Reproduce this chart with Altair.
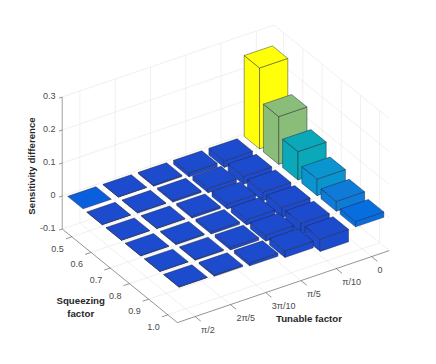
import math
import altair as alt
import pandas as pd

squeeze = [0.5, 0.6, 0.7, 0.8, 0.9, 1.0]
tunable = [0, 1, 2, 3, 4, 5]  # multiples of pi/10
tunable_labels = ["0", "π/10", "π/5", "3π/10", "2π/5", "π/2"]
ztick_vals = [-0.1, 0, 0.1, 0.2, 0.3]
ztick_labels = ["-0.1", "0", "0.1", "0.2", "0.3"]

# rows: squeezing factor, columns: tunable factor
values = [
    [0.245, -0.020, -0.012, -0.004, -0.001, 0.000],
    [0.145, -0.024, -0.013, -0.005, -0.002, -0.001],
    [0.086, -0.027, -0.015, -0.006, -0.002, -0.001],
    [0.050, -0.030, -0.016, -0.007, -0.003, -0.001],
    [0.030, -0.034, -0.018, -0.008, -0.003, -0.001],
    [0.016, -0.038, -0.020, -0.009, -0.004, -0.001],
]

color_domain = [-0.04, -0.0005, 0.0, 0.016, 0.03, 0.05, 0.086, 0.145, 0.245]
color_range = ["#1d4bce", "#1d4bce", "#0a5fdc", "#076ee0", "#0f7bd8", "#0b95d0", "#0aa8b8", "#8abd7a", "#ffff0a"]

# orthographic view: screen position of (squeeze 0.5, tunable 0, z 0), and screen step per unit
ORIGIN = (266.0, 137.8)
U = (19.2, 15.6)
V = (-35.3, 12.0)
ZS = 330.0
BAR = 0.4


def proj(i, j, z):
    return (ORIGIN[0] + i * U[0] + j * V[0], ORIGIN[1] + i * U[1] + j * V[1] - z * ZS)


polys, lines, labels = [], [], []


def add_poly(pts, val):
    pid = len(polys) and polys[-1]["poly"] + 1
    for k, p in enumerate(pts + [pts[0]]):
        polys.append({"poly": pid, "ord": k, "sx": p[0], "sy": p[1], "val": val})


def add_line(group, a, b):
    for k, p in enumerate((a, b)):
        lines.append({"id": len(lines) // 2, "group": group, "ord": k, "sx": p[0], "sy": p[1]})


ZLO, ZHI = ztick_vals[0], ztick_vals[-1]
LO, HI = -0.5, 5.5

# grid
for j in tunable:
    add_line("grid", proj(LO, j, ZLO), proj(HI, j, ZLO))
    add_line("grid", proj(LO, j, ZLO), proj(LO, j, ZHI))
for i in range(6):
    add_line("grid", proj(i, LO, ZLO), proj(i, HI, ZLO))
    add_line("grid", proj(i, LO, ZLO), proj(i, LO, ZHI))
for z in ztick_vals:
    add_line("grid", proj(LO, HI, z), proj(LO, LO, z))
    add_line("grid", proj(LO, LO, z), proj(HI, LO, z))

# axes
add_line("axis", proj(LO, HI, ZLO), proj(HI, HI, ZLO))
add_line("axis", proj(HI, HI, ZLO), proj(HI, LO, ZLO))
add_line("zaxis", proj(LO, HI, ZLO), proj(LO, HI, ZHI))
for i in range(6):
    add_line("axis", proj(i, HI, ZLO), proj(i, HI + 0.17, ZLO))
for j in tunable:
    add_line("axis", proj(HI, j, ZLO), proj(HI + 0.3, j, ZLO))
for z in ztick_vals:
    add_line("axis", proj(LO, HI, z), proj(LO, HI + 0.09, z))

# bars, back to front
for i in range(6):
    for j in tunable:
        v = values[i][j]
        top, bot = max(v, 0), min(v, 0)
        l, f, r, b = [(i - BAR, j + BAR), (i + BAR, j + BAR), (i + BAR, j - BAR), (i - BAR, j - BAR)]
        if top != bot:
            add_poly([proj(*l, top), proj(*f, top), proj(*f, bot), proj(*l, bot)], v)
            add_poly([proj(*f, top), proj(*r, top), proj(*r, bot), proj(*f, bot)], v)
        add_poly([proj(*l, top), proj(*f, top), proj(*r, top), proj(*b, top)], v)

# tick labels
for i, s in enumerate(squeeze):
    p = proj(i, HI, ZLO)
    labels.append({"t": f"{s:.1f}", "sx": p[0] - 8, "sy": p[1] + 12, "a": "right"})
for j, t in zip(tunable, tunable_labels):
    p = proj(HI, j, ZLO)
    labels.append({"t": t, "sx": p[0] + 6, "sy": p[1] + 13, "a": "left"})
for z, t in zip(ztick_vals, ztick_labels):
    p = proj(LO, HI, z)
    labels.append({"t": t, "sx": 55.5, "sy": p[1] - 1.5, "a": "right"})

titles = [
    {"t": "Squeezing", "sx": 80.7, "sy": 301, "ang": 0},
    {"t": "factor", "sx": 80.7, "sy": 314.3, "ang": 0},
    {"t": "Tunable factor", "sx": 309, "sy": 319, "ang": 0},
    {"t": "Sensitivity difference", "sx": 31.7, "sy": 166, "ang": 270},
]

xs = alt.Scale(domain=[8, 428], range=[0, 420], nice=False, zero=False)
ys = alt.Scale(domain=[8, 356], range=[0, 348], nice=False, zero=False)
X = alt.X("sx:Q", scale=xs, axis=None)
Y = alt.Y("sy:Q", scale=ys, axis=None)

ldf = pd.DataFrame(lines)


def line_layer(group, color, width):
    return (
        alt.Chart(ldf[ldf["group"] == group])
        .mark_line(stroke=color, strokeWidth=width)
        .encode(x=X, y=Y, order="ord:Q", detail="id:N")
    )


bars = (
    alt.Chart(pd.DataFrame(polys))
    .mark_line(stroke="#1c1f33", strokeWidth=0.45, strokeJoin="round")
    .encode(
        x=X,
        y=Y,
        order="ord:Q",
        detail="poly:N",
        fill=alt.Fill("val:Q", scale=alt.Scale(domain=color_domain, range=color_range), legend=None),
    )
)

ldat = pd.DataFrame(labels)
tick_text = []
for a in ("left", "right"):
    tick_text.append(
        alt.Chart(ldat[ldat["a"] == a])
        .mark_text(font="Liberation Sans", fontSize=9, color="#4a4a4a", align=a, baseline="middle")
        .encode(x=X, y=Y, text="t:N")
    )
tdat = pd.DataFrame(titles)
title_text = [
    alt.Chart(tdat[tdat["ang"] == ang])
    .mark_text(font="Liberation Sans", fontSize=9.7, fontWeight="bold", color="#262626", align="center", baseline="middle", angle=ang)
    .encode(x=X, y=Y, text="t:N")
    for ang in (0, 270)
]

chart = (
    alt.layer(
        line_layer("grid", "#e6e6e6", 0.6),
        line_layer("zaxis", "#b0b0b0", 1.2),
        line_layer("axis", "#666666", 0.7),
        bars,
        *tick_text,
        *title_text,
    )
    .properties(width=420, height=348, padding=0, background="white")
    .configure_view(stroke=None)
)

chart.save("out.html", embed_options={"renderer": "svg", "actions": False})
